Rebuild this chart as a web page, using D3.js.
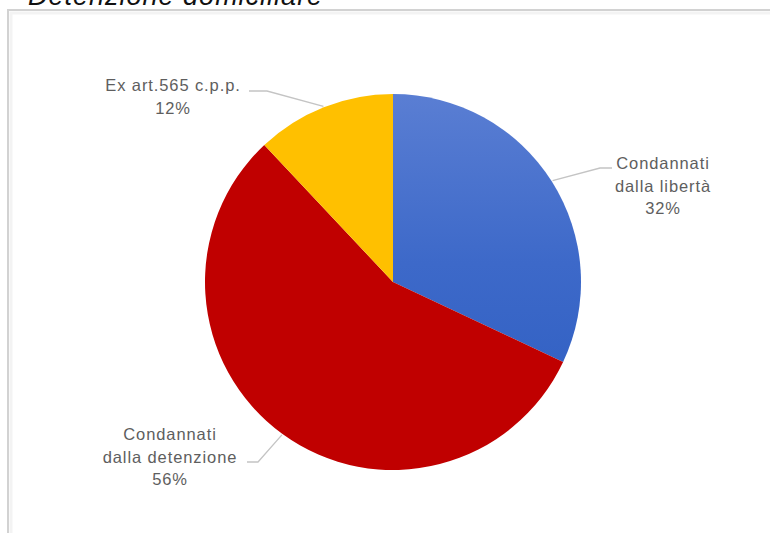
<!DOCTYPE html>
<html>
<head>
<meta charset="utf-8">
<script src="https://cdn.jsdelivr.net/npm/d3@7"></script>
<style>
  html, body { margin: 0; padding: 0; background: #ffffff; }
  svg { display: block; }
</style>
</head>
<body>
<svg id="chart" width="770" height="533"></svg>
<script>
// ---- data ----
const title = "Detenzione domiciliare";
const categories = ["Condannati dalla libertà", "Condannati dalla detenzione", "Ex art.565 c.p.p."];
const labelLines = [["Condannati", "dalla libertà"], ["Condannati", "dalla detenzione"], ["Ex art.565 c.p.p."]];
const values = [32, 56, 12];
const colors = ["url(#blueGrad)", "#c00000", "#ffc000"];

// ---- layout ----
const svg = d3.select("#chart");
const W = 770, H = 533;
const cx = 393, cy = 282, R = 188;

// frame
svg.append("rect").attr("x", 8).attr("y", 10).attr("width", W).attr("height", H)
  .attr("fill", "none").attr("stroke", "#d2d2d2").attr("stroke-width", 2);
svg.append("rect").attr("x", 11).attr("y", 13).attr("width", W).attr("height", H)
  .attr("fill", "none").attr("stroke", "#f3f3f3").attr("stroke-width", 3);

// title (clipped by top edge, as in the reference)
svg.append("text").attr("x", 28).attr("y", 5)
  .attr("font-family", "Liberation Sans, Arial, sans-serif")
  .attr("font-style", "italic").attr("font-size", 27).attr("letter-spacing", 1)
  .attr("fill", "#111").text(title);

const defs = svg.append("defs");
// gradient in the pie group's local coordinates (centre at 0,0)
const g1 = defs.append("linearGradient").attr("id", "blueGrad")
  .attr("gradientUnits", "userSpaceOnUse")
  .attr("x1", 0).attr("y1", -R).attr("x2", 0).attr("y2", R);
g1.append("stop").attr("offset", "0%").attr("stop-color", "#5a7ed3");
g1.append("stop").attr("offset", "45%").attr("stop-color", "#3d69c9");
g1.append("stop").attr("offset", "100%").attr("stop-color", "#2b5cc0");

const pie = d3.pie().sort(null).value(d => d)(values);
const arc = d3.arc().innerRadius(0).outerRadius(R);
const edge = d3.arc().innerRadius(R + 1).outerRadius(R + 1);

const g = svg.append("g").attr("transform", `translate(${cx},${cy})`);
g.selectAll("path.slice").data(pie).enter().append("path")
  .attr("class", "slice")
  .attr("d", arc)
  .attr("fill", (d, i) => colors[i]);

// labels: anchor centre, first baseline, elbow point, text end point
const labelPos = [
  { x: 663, y: 169, elbow: [600, 168], end: [612, 168] },
  { x: 170, y: 440, elbow: [258, 462], end: [247, 462] },
  { x: 173, y: 91,  elbow: [267, 91],  end: [249, 91] }
];
const lineH = 22.5;

pie.forEach((d, i) => {
  const c = edge.centroid(d);
  const p = labelPos[i];
  const start = [cx + c[0], cy + c[1]];
  svg.append("path")
    .attr("d", d3.line()([start, p.elbow, p.end]))
    .attr("fill", "none").attr("stroke", "#c4c4c4").attr("stroke-width", 1.3);

  const pct = Math.round(d.value / d3.sum(values) * 100) + "%";
  const lines = labelLines[i].concat([pct]);
  const t = svg.append("text")
    .attr("font-family", "Liberation Sans, Arial, sans-serif")
    .attr("font-size", 16.5).attr("letter-spacing", 0.9)
    .attr("fill", "#5e5e5e").attr("text-anchor", "middle");
  lines.forEach((s, k) => {
    t.append("tspan").attr("x", p.x).attr("y", p.y + k * lineH).text(s);
  });
});
</script>
</body>
</html>
